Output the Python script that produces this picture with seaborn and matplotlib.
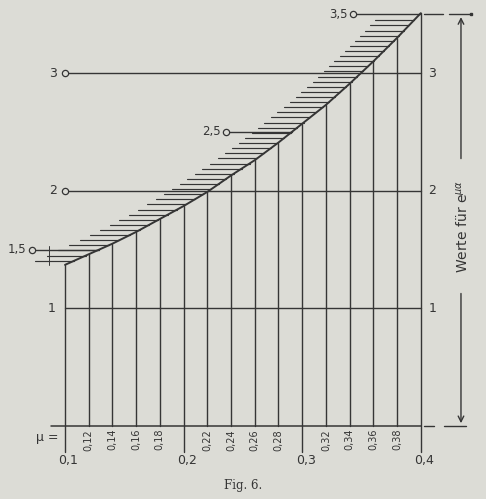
import matplotlib
matplotlib.use("Agg")
import matplotlib.pyplot as plt
import numpy as np
import pandas as pd
import seaborn as sns

# values: mu and e^(mu*alpha)
mu = [0.10, 0.12, 0.14, 0.16, 0.18, 0.20, 0.22, 0.24,
      0.26, 0.28, 0.30, 0.32, 0.34, 0.36, 0.38, 0.40]
werte = [1.37, 1.46, 1.55, 1.65, 1.76, 1.87, 1.99, 2.13,
         2.26, 2.41, 2.57, 2.73, 2.91, 3.10, 3.30, 3.51]
minor_labels = ["0,12", "0,14", "0,16", "0,18", "0,22", "0,24", "0,26", "0,28",
                "0,32", "0,34", "0,36", "0,38"]
major_mu = [0.1, 0.2, 0.3, 0.4]
major_labels = ["0,1", "0,2", "0,3", "0,4"]
levels = [1, 2, 3]
marks = [1.5, 2.5, 3.5]
mark_labels = ["1,5", "2,5", "3,5"]
mark_start = [0.072, 0.236, 0.343]

df = pd.DataFrame({"mu": mu, "werte": werte})

sns.set_style("white")
plt.rcParams["font.family"] = ["DejaVu Sans"]
ink = "#353535"
paper = "#dcdcd6"

fig = plt.figure(figsize=(4.86, 4.99), dpi=100, facecolor=paper)
ax = fig.add_axes([0, 0, 1, 1])
ax.set_facecolor(paper)
ax.set_xlim(0.0452, 0.455)
ax.set_ylim(-0.621, 3.622)
ax.axis("off")

def is_major(m):
    return any(abs(m - k) < 1e-9 for k in major_mu)

# curve
sns.lineplot(data=df, x="mu", y="werte", color=ink, lw=1.4, ax=ax)

# vertical ordinates
for m, w in zip(mu, werte):
    low = -0.22 if is_major(m) else 0
    ax.plot([m, m], [low, w], color=ink, lw=1.0)

# baseline
ax.plot([0.0885, 0.4], [0, 0], color=ink, lw=1.1)

# horizontal levels
for lv in levels:
    ax.plot([0.1, 0.4], [lv, lv], color=ink, lw=1.0)
    ax.text(0.4065, lv, str(lv), fontsize=9, va="center", ha="left", color=ink)
    if lv == 1:
        ax.text(0.092, lv, "1", fontsize=9, va="center", ha="right", color=ink)
    else:
        ax.plot(0.1, lv, "o", mfc=paper, mec=ink, ms=4.5, mew=0.9)
        ax.text(0.093, lv, str(lv), fontsize=9, va="center", ha="right", color=ink)

# marks 1,5 / 2,5 / 3,5 going to the curve
for v, lab, s in zip(marks, mark_labels, mark_start):
    end = np.interp(v, werte, mu)
    ax.plot([s, end], [v, v], color=ink, lw=1.0)
    ax.plot(s, v, "o", mfc=paper, mec=ink, ms=4.5, mew=0.9, zorder=5)
    ax.text(s - 0.0045, v, lab, fontsize=8.5, va="center", ha="right", color=ink)
ax.plot([0.0865, 0.0865], [1.37, 1.53], color=ink, lw=0.7)

# hatching above the curve
for h in np.arange(1.405, 3.46, 0.0435):
    xc = np.interp(h, werte, mu)
    ax.plot([xc - 0.033, xc], [h, h], color=ink, lw=0.85)

# tick labels
minor_mu = [x for x in mu if not is_major(x)]
for m, lab in zip(minor_mu, minor_labels):
    ax.text(m, -0.025, lab, fontsize=7, rotation=90, ha="center", va="top", color=ink)
for m, lab in zip(major_mu, major_labels):
    ax.text(m + 0.003, -0.29, lab, fontsize=9, ha="center", va="center", color=ink)
ax.text(0.085, -0.1, "μ =", fontsize=9, ha="center", va="center", color=ink)

# dimension arrow on the right
xa = 0.4339
ax.plot([0.403, 0.419], [3.5, 3.5], color=ink, lw=1.0)
ax.plot([0.424, 0.4425], [3.5, 3.5], color=ink, lw=1.0)
ax.plot([0.4425], [3.5], "s", color=ink, ms=2)
ax.plot([0.403, 0.4115], [0, 0], color=ink, lw=1.0)
ax.plot([0.4195, 0.4385], [0, 0], color=ink, lw=1.0)
ax.annotate("", xy=(xa, 3.5), xytext=(xa, 2.25),
            arrowprops=dict(arrowstyle="->", color=ink, lw=1.0))
ax.annotate("", xy=(xa, 0.0), xytext=(xa, 1.15),
            arrowprops=dict(arrowstyle="->", color=ink, lw=1.0))
ax.text(xa + 0.001, 1.70, "Werte für e$^{\\mu\\alpha}$", fontsize=10, rotation=90,
        ha="center", va="center", color=ink)

ax.text(0.1 + (243 - 65) / 1186, -0.503, "Fig. 6.", fontsize=8.5, family="DejaVu Serif",
        ha="center", va="center", color=ink)

fig.savefig("out.png", dpi=100, facecolor=paper)
